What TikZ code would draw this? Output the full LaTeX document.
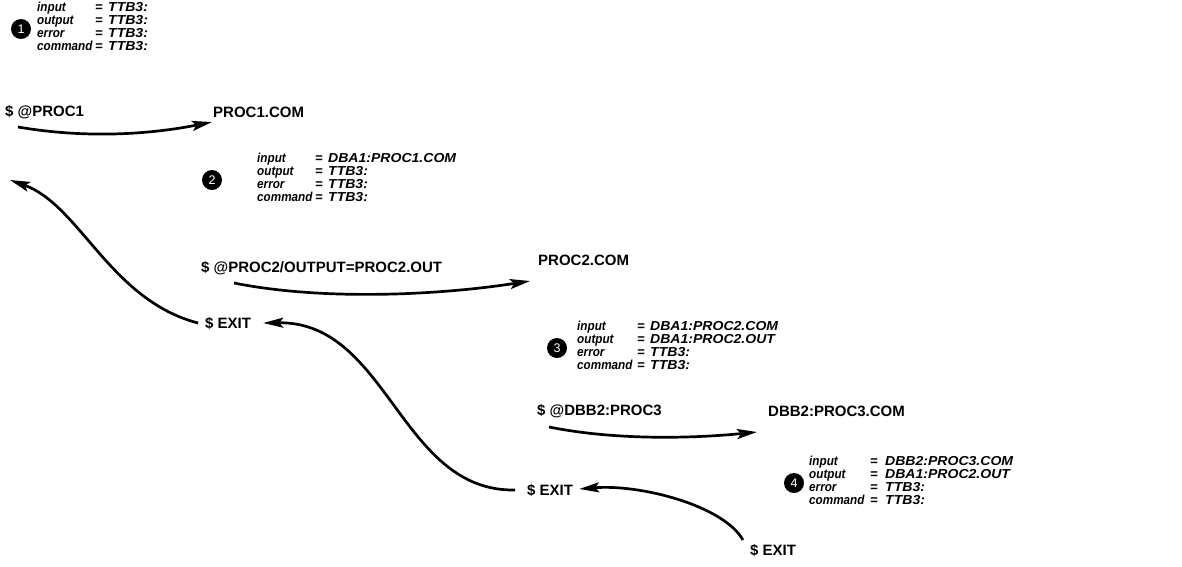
\documentclass[tikz,border=0pt]{standalone}
\usepackage{fontspec}
\usepackage{array}
\setmainfont{Liberation Sans}
\newfontfamily\labf{Liberation Sans}[FakeStretch=0.9]
\newfontfamily\valf{Liberation Sans}[FakeStretch=1.08]
\usetikzlibrary{arrows.meta}
\newcommand\blkrows[6]{\begin{tabular}{@{}>{\labf\bfseries\itshape}p{#1}@{}>{\bfseries\itshape}p{#2}@{}>{\valf\bfseries\itshape}l@{}}
input & = & #3\\ output & = & #4\\ error & = & #5\\ command & = & #6\end{tabular}}
\begin{document}
\begin{tikzpicture}[x=1pt,y=-1pt,
  lbl/.style={anchor=west,inner sep=0pt,font=\fontsize{15}{15}\selectfont\bfseries},
  blk/.style={anchor=west,inner sep=0pt,font=\fontsize{13}{12.5}\selectfont},
  num/.style={circle,fill=black,text=white,minimum size=20pt,inner sep=0pt,font=\fontsize{12.5}{12.5}\selectfont},
  arr/.style={line width=2.7pt,-{Stealth[length=20pt,width=10pt,inset=4pt]}}]
\useasboundingbox (0,0) rectangle (1182,566);
% blocks
\node[num] (c1) at (21,29) {1};
\node[blk] (b1) at (37,28) {\blkrows{58pt}{13pt}{TTB3:}{TTB3:}{TTB3:}{TTB3:}};
\node[num] (c2) at (212,180) {2};
\node[blk] (b2) at (257,179) {\blkrows{58pt}{13pt}{DBA1:PROC1.COM}{TTB3:}{TTB3:}{TTB3:}};
\node[num] (c3) at (557,348) {3};
\node[blk] (b3) at (577,347) {\blkrows{60pt}{13pt}{DBA1:PROC2.COM}{DBA1:PROC2.OUT}{TTB3:}{TTB3:}};
\node[num] (c4) at (794,483) {4};
\node[blk] (b4) at (809,482) {\blkrows{61pt}{15pt}{DBB2:PROC3.COM}{DBA1:PROC2.OUT}{TTB3:}{TTB3:}};
% labels
\node[lbl] (p1) at (5,112) {\$ @PROC1};
\node[lbl] (p1c) at (213,112) {PROC1.COM};
\node[lbl] (p2) at (201,268) {\$ @PROC2/OUTPUT=PROC2.OUT};
\node[lbl] (p2c) at (538,260) {PROC2.COM};
\node[lbl] (p3) at (537,411) {\$ @DBB2:PROC3};
\node[lbl] (p3c) at (768,411) {DBB2:PROC3.COM};
\node[lbl] (e1) at (205,323) {\$ EXIT};
\node[lbl] (e2) at (527,490) {\$ EXIT};
\node[lbl] (e3) at (750,550) {\$ EXIT};
\coordinate (top) at (10,180);
% arrows
\draw[arr] ([shift={(13,15)}]p1.west) .. controls +(70,12) and +(-60,12) .. ([shift={(-1,10)}]p1c.west);
\draw[arr] ([shift={(33,15)}]p2.west) .. controls +(90,18) and +(-90,14) .. ([shift={(-8,21)}]p2c.west);
\draw[arr] ([shift={(12,16)}]p3.west) .. controls +(70,14) and +(-60,6) .. ([shift={(-11,21)}]p3c.west);
\draw[arr] ([shift={(-7,-10)}]e3.west) .. controls +(-20,-35) and +(60,-5) .. ([shift={(6,-1)}]e2.east);
\draw[arr] ([shift={(-12,0)}]e2.west) .. controls +(-115,2) and +(125,-2) .. ([shift={(12,0)}]e1.east);
\draw[arr] ([shift={(-7,0)}]e1.west) .. controls +(-88,-23) and +(70,25) .. (top);
\end{tikzpicture}
\end{document}
